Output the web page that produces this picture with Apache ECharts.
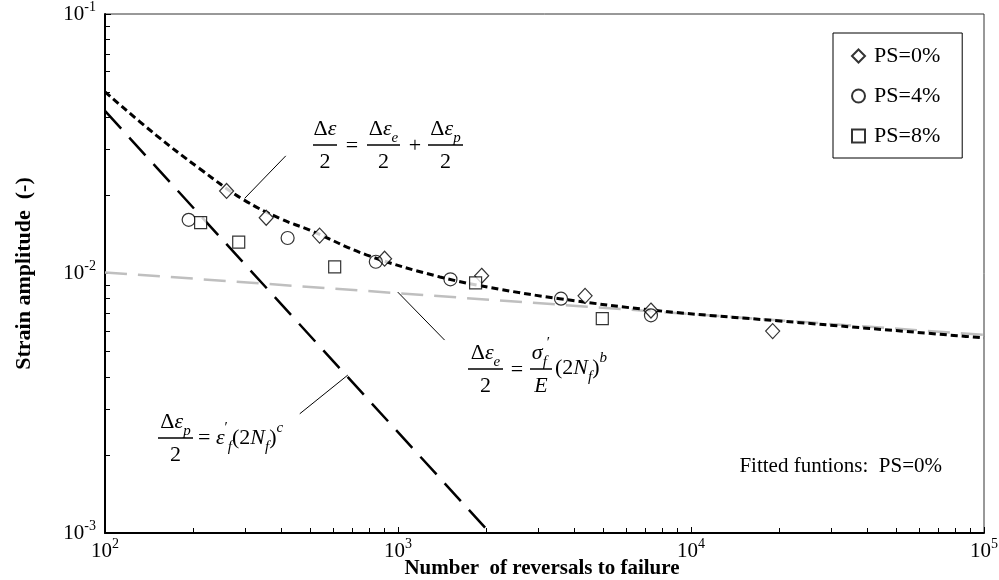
<!DOCTYPE html>
<html>
<head>
<meta charset="utf-8">
<title>Strain-life</title>
<script src="https://cdn.jsdelivr.net/npm/echarts@6/dist/echarts.min.js"></script>
<style>
  html, body { margin: 0; padding: 0; background: #fff; }
  #main { width: 999px; height: 580px; }
</style>
</head>
<body>
<div id="main"></div>
<script>
// measured points (reversals, strain amplitude)
var ps0 = [[260, 0.0208], [355, 0.0164], [540, 0.0140], [900, 0.0114], [1930, 0.0098], [4350, 0.0082], [7300, 0.0072], [19000, 0.0060]];
var ps4 = [[193, 0.0161], [420, 0.0137], [840, 0.0111], [1510, 0.0095], [3600, 0.0080], [7300, 0.0069]];
var ps8 = [[212, 0.0157], [286, 0.0132], [608, 0.0106], [1840, 0.0092], [4980, 0.0067]];

// fitted curves
var fitTotal = [[100, 0.0501], [150, 0.0340], [210, 0.0254], [296, 0.0193], [400, 0.0162], [500, 0.0147], [780, 0.0118], [1390, 0.0097], [2220, 0.0087], [3560, 0.0080], [7600, 0.0072], [20500, 0.00655], [81000, 0.00576], [100000, 0.00565]];
var fitElastic = [[100, 0.0101], [100000, 0.0058]];
var fitPlastic = [[100, 0.0423], [2060, 0.001]];

// leader lines for the equations
var lead1 = [[414, 0.0284], [300, 0.0195]];
var lead2 = [[998, 0.00848], [1442, 0.00554]];
var lead3 = [[462, 0.00288], [674, 0.00406]];

var xMinor = [200, 300, 400, 500, 600, 700, 800, 900, 2000, 3000, 4000, 5000, 6000, 7000, 8000, 9000, 20000, 30000, 40000, 50000, 60000, 70000, 80000, 90000];
var yMinor = [0.002, 0.003, 0.004, 0.005, 0.006, 0.007, 0.008, 0.009, 0.02, 0.03, 0.04, 0.05, 0.06, 0.07, 0.08, 0.09];

var FONT = 'Liberation Serif';

var myChart = echarts.init(document.getElementById('main'));

function powLabel(v) {
    var e = Math.round(Math.log10(v));
    return '{b|10}{s|' + (e < 0 ? '-' + (-e) : e) + '}';
}
var powRich = {
    b: { fontSize: 21, lineHeight: 28, fontFamily: FONT, color: '#000' },
    s: { fontSize: 14, lineHeight: 18, fontFamily: FONT, color: '#000', verticalAlign: 'top' }
};

// rich styles for the math text
var mr = {
    n: { fontSize: 22, lineHeight: 34, fontFamily: FONT, color: '#000' },
    i: { fontSize: 22, lineHeight: 34, fontFamily: FONT, fontStyle: 'italic', color: '#000' },
    sub: { fontSize: 15, lineHeight: 16, fontFamily: FONT, fontStyle: 'italic', color: '#000', verticalAlign: 'bottom' },
    sup: { fontSize: 15, lineHeight: 16, fontFamily: FONT, fontStyle: 'italic', color: '#000', verticalAlign: 'top' },
    sp: { fontSize: 15, lineHeight: 16, fontFamily: FONT, color: '#000', verticalAlign: 'top' }
};
function mtext(x, y, s, align) {
    return { type: 'text', x: x, y: y, z: 100, style: { text: s, rich: mr, align: align || 'center', verticalAlign: 'middle' } };
}
function bar(x1, x2, y) {
    return { type: 'rect', z: 100, shape: { x: x1, y: y - 0.75, width: x2 - x1, height: 1.5 }, style: { fill: '#000' } };
}
function frac(x1, x2, y, num, den) {
    var cx = (x1 + x2) / 2;
    return [mtext(cx, y - 16, num), bar(x1, x2, y), mtext(cx, y + 17, den)];
}

var eqs = [].concat(
    frac(313, 337, 145, '{n|Δ}{i|ε}', '{n|2}'),
    [mtext(352, 146, '{n|=}')],
    frac(367, 400, 145, '{n|Δ}{i|ε}{sub|e}', '{n|2}'),
    [mtext(415, 146, '{n|+}')],
    frac(428, 463, 145, '{n|Δ}{i|ε}{sub|p}', '{n|2}'),

    frac(468, 503, 369, '{n|Δ}{i|ε}{sub|e}', '{n|2}'),
    [mtext(517, 370, '{n|=}')],
    frac(530, 552, 369, '{i|σ}{sub|f}{sp|′}', '{i|E}'),
    [mtext(555, 368, '{n|(2}{i|N}{sub|f}{n|)}{sup|b}', 'left')],

    frac(158, 193, 438, '{n|Δ}{i|ε}{sub|p}', '{n|2}'),
    [mtext(198, 438, '{n|= }{i|ε}{sp|′}{sub|f}{n|(2}{i|N}{sub|f}{n|)}{sup|c}', 'left')]
);
eqs.push({
    type: 'text', right: 57, top: 456, z: 100,
    style: { text: 'Fitted funtions:  PS=0%', font: '21px ' + FONT, fill: '#000' }
});
// x axis title
eqs.push({
    type: 'text', x: 542, y: 569, z: 100,
    style: { text: 'Number  of reversals to failure', font: 'bold 21px ' + FONT, fill: '#000', align: 'center', verticalAlign: 'middle' }
});

function leader(d) {
    return {
        type: 'line', data: d, symbol: 'none', silent: true, legendHoverLink: false,
        lineStyle: { color: '#000', width: 1 }, z: 3
    };
}

var option = {
    animation: false,
    backgroundColor: '#fff',
    grid: {
        left: 105, right: 15, top: 14, bottom: 47,
        outerBoundsMode: 'none',
        containLabel: false,
        show: true, borderColor: '#333', borderWidth: 1
    },
    legend: {
        data: ['PS=0%', 'PS=4%', 'PS=8%'],
        orient: 'vertical',
        left: 833, top: 33,
        padding: [12, 22, 11, 18],
        itemGap: 18,
        itemWidth: 13, itemHeight: 13,
        backgroundColor: '#fff',
        borderColor: '#000', borderWidth: 1,
        textStyle: { fontFamily: FONT, fontSize: 22, lineHeight: 20, color: '#000', padding: [0, 0, 0, 4] }
    },
    xAxis: [
        {
            type: 'log', logBase: 10, min: 100, max: 100000,
            axisLine: { onZero: false, lineStyle: { color: '#000', width: 2 } },
            axisTick: { inside: true, length: 6, lineStyle: { color: '#000' } },
            axisLabel: { formatter: powLabel, rich: powRich, margin: 4 },
            splitLine: { show: false }
        },
        {
            type: 'log', logBase: 10, min: 100, max: 100000,
            position: 'bottom',
            axisLine: { show: false },
            axisTick: { show: true, inside: true, length: 5, customValues: xMinor, lineStyle: { color: '#000' } },
            axisLabel: { show: false },
            splitLine: { show: false }
        }
    ],
    yAxis: [
        {
            type: 'log', logBase: 10, min: 0.001, max: 0.1,
            name: 'Strain amplitude  (-)',
            nameLocation: 'middle', nameGap: 70,
            nameTextStyle: { fontFamily: FONT, fontSize: 22, fontWeight: 'bold', color: '#000' },
            axisLine: { onZero: false, lineStyle: { color: '#000', width: 2 } },
            axisTick: { inside: true, length: 6, lineStyle: { color: '#000' } },
            axisLabel: { formatter: powLabel, rich: powRich, margin: 9 },
            splitLine: { show: false }
        },
        {
            type: 'log', logBase: 10, min: 0.001, max: 0.1,
            position: 'left',
            axisLine: { show: false },
            axisTick: { show: true, inside: true, length: 5, customValues: yMinor, lineStyle: { color: '#000' } },
            axisLabel: { show: false },
            splitLine: { show: false }
        }
    ],
    series: [
        {
            name: 'fit elastic', type: 'line', data: fitElastic, symbol: 'none', silent: true, z: 2,
            lineStyle: { color: '#bfbfbf', width: 2.5, type: [22, 11] }
        },
        {
            name: 'fit plastic', type: 'line', data: fitPlastic, symbol: 'none', silent: true, z: 2,
            lineStyle: { color: '#000', width: 2.5, type: [24, 12] }
        },
        {
            name: 'fit total', type: 'line', data: fitTotal, symbol: 'none', silent: true, smooth: 0.4, z: 4,
            lineStyle: { color: '#000', width: 3, type: [7, 4] }
        },
        leader(lead1),
        leader(lead2),
        leader(lead3),
        {
            name: 'PS=0%', type: 'scatter', data: ps0, symbol: 'diamond', symbolSize: [14, 15], z: 5,
            itemStyle: { color: '#fff', borderColor: '#000', borderWidth: 1.2 }
        },
        {
            name: 'PS=4%', type: 'scatter', data: ps4, symbol: 'circle', symbolSize: 13, z: 5,
            itemStyle: { color: 'rgba(255,255,255,0)', borderColor: '#000', borderWidth: 1.2 }
        },
        {
            name: 'PS=8%', type: 'scatter', data: ps8, symbol: 'rect', symbolSize: 12, z: 5,
            itemStyle: { color: '#fff', borderColor: '#000', borderWidth: 1.2 }
        }
    ],
    graphic: eqs
};

myChart.setOption(option);
</script>
</body>
</html>
